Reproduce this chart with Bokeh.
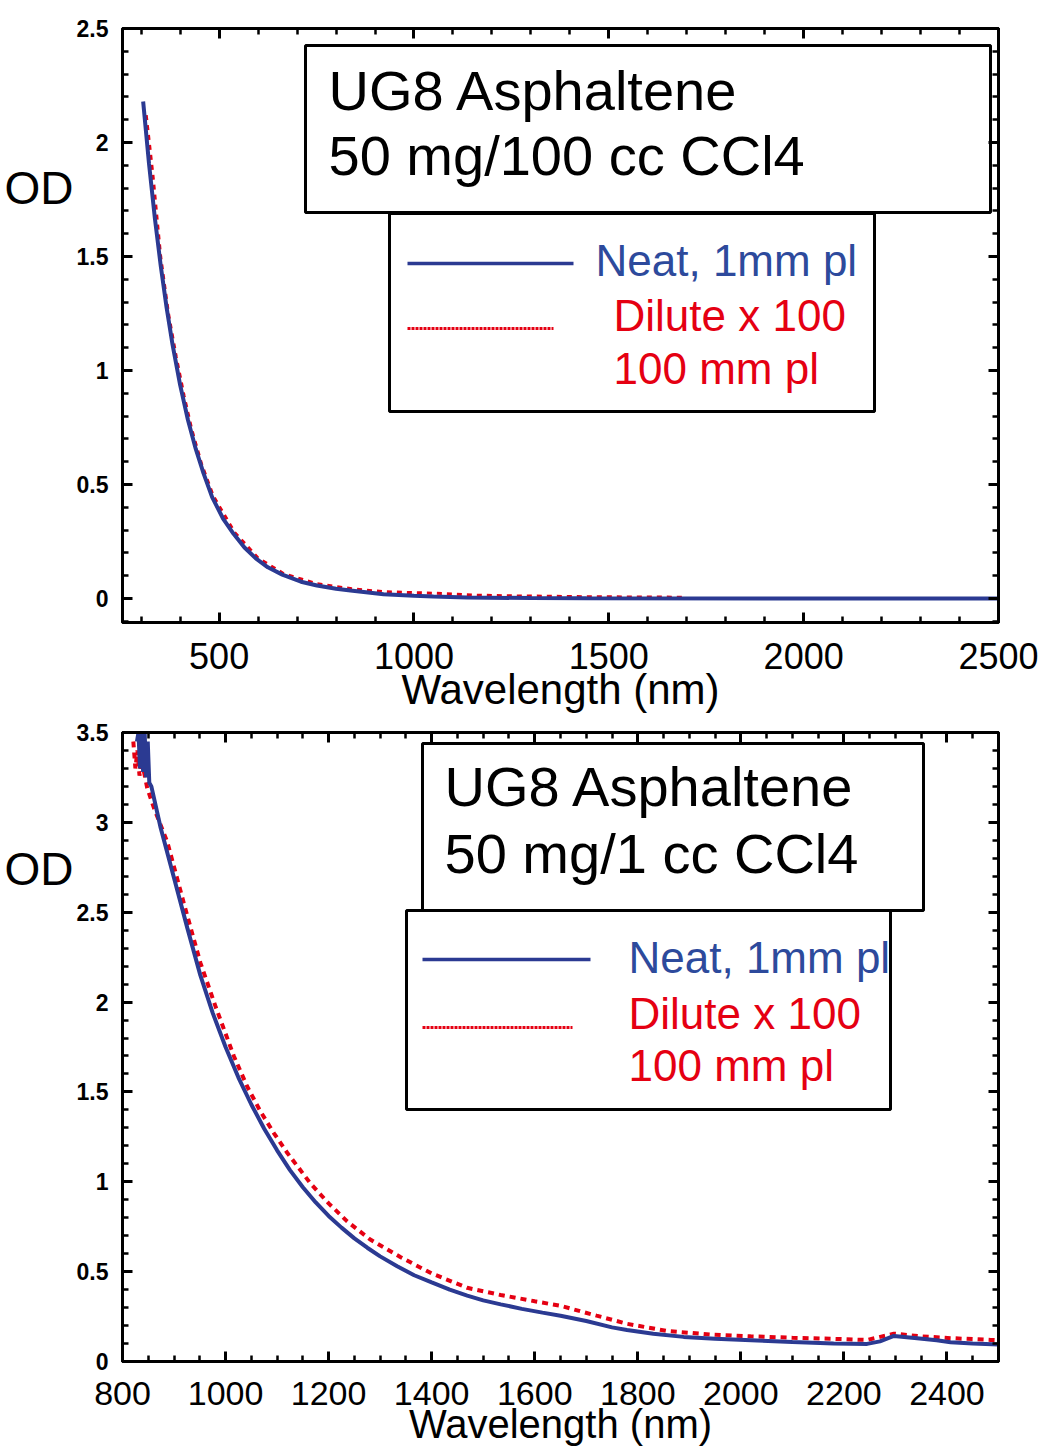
from bokeh.plotting import figure
from bokeh.layouts import column
from bokeh.models import (FixedTicker, LinearAxis, NumeralTickFormatter,
                          CustomJSTickFormatter, BoxAnnotation, Label)
from bokeh.embed import file_html
from bokeh.resources import INLINE

# ---------------- data: top panel (50 mg / 100 cc CCl4) ----------------
top_neat_wl = [305, 320, 335, 350, 365, 380, 400, 420, 440, 460, 482, 510, 537,
               565, 594, 625, 662, 710, 751, 800, 837, 922, 1000, 1050, 1136,
               1300, 1443, 2500]
top_neat_od = [2.18, 1.908, 1.669, 1.461, 1.278, 1.118, 0.936, 0.783, 0.656,
               0.549, 0.445, 0.351, 0.284, 0.224, 0.176, 0.137, 0.105, 0.074,
               0.057, 0.043, 0.035, 0.019, 0.012, 0.009, 0.005, 0.002, 0.001,
               0.0]
top_dil_wl = [313, 330, 350, 370, 390, 410, 430, 455, 485, 540, 600, 665, 750,
              840, 922, 1000, 1080, 1160, 1250, 1450, 1690]
top_dil_od = [2.12, 1.86, 1.50, 1.25, 1.06, 0.89, 0.74, 0.59, 0.45, 0.29,
              0.178, 0.11, 0.065, 0.043, 0.030, 0.026, 0.022, 0.015, 0.012,
              0.008, 0.006]

# ---------------- data: bottom panel (50 mg / 1 cc CCl4) ----------------
bot_neat_wl = [828, 831, 834, 837, 840, 843, 846, 849, 852, 856, 874, 900, 926,
               951, 975, 1000, 1025, 1050, 1075, 1100, 1125, 1150, 1175, 1200,
               1225, 1250, 1275, 1300, 1333, 1366, 1400, 1435, 1469, 1500, 1534,
               1575, 1615, 1650, 1700, 1750, 1779, 1830, 1889, 1950, 2032, 2100,
               2180, 2245, 2270, 2297, 2342, 2380, 2407, 2450, 2500]
bot_neat_od = [3.45, 3.50, 3.30, 3.50, 3.28, 3.50, 3.25, 3.45, 3.22, 3.20,
               2.97, 2.69, 2.41, 2.15, 1.94, 1.75, 1.58, 1.43, 1.295, 1.175,
               1.065, 0.97, 0.885, 0.81, 0.745, 0.685, 0.633, 0.585, 0.530,
               0.48, 0.44, 0.40, 0.367, 0.34, 0.318, 0.293, 0.272, 0.255, 0.225,
               0.19, 0.175, 0.155, 0.137, 0.127, 0.117, 0.108, 0.10, 0.098,
               0.112, 0.142, 0.13, 0.118, 0.107, 0.10, 0.095]
bot_dil_wl = [821, 825, 829, 833, 837, 848, 861, 887, 919, 951, 980, 1016, 1042,
              1068, 1094, 1120, 1165, 1200, 1236, 1280, 1340, 1400, 1469, 1534,
              1600, 1650, 1720, 1779, 1856, 1940, 2019, 2100, 2180, 2245, 2297,
              2350, 2407, 2485, 2500]
bot_dil_od = [3.45, 3.30, 3.40, 3.26, 3.35, 3.19, 3.08, 2.89, 2.55, 2.22, 1.98,
              1.70, 1.53, 1.39, 1.27, 1.16, 0.99, 0.88, 0.78, 0.68, 0.58, 0.49,
              0.41, 0.37, 0.335, 0.31, 0.255, 0.21, 0.17, 0.15, 0.14, 0.132,
              0.126, 0.12, 0.155, 0.14, 0.13, 0.12, 0.118]

# ---------------- text ----------------
top_title = ["UG8 Asphaltene", "50 mg/100 cc CCl4"]
bot_title = ["UG8 Asphaltene", "50 mg/1 cc CCl4"]
legend_neat = "Neat, 1mm pl"
legend_dil = ["Dilute x 100", "100 mm pl"]
x_title = "Wavelength (nm)"
y_title = "OD"

top_xticks = [500, 1000, 1500, 2000, 2500]
top_yticks = [0, 0.5, 1, 1.5, 2, 2.5]
bot_xticks = [800, 1000, 1200, 1400, 1600, 1800, 2000, 2200, 2400]
bot_yticks = [0, 0.5, 1, 1.5, 2, 2.5, 3, 3.5]

BLUE = "#2B3A92"
BLUE_TXT = "#2D4A9C"
RED = "#E50012"
FONT = "Liberation Sans"

FRAME_L, FRAME_R = 122, 998   # page pixels
FIG_W = 1054


def make_fig(xr, yr, height, top_b, bot_b):
    p = figure(width=FIG_W, height=height, x_range=xr, y_range=yr,
               output_backend="svg", toolbar_location=None,
               min_border_left=FRAME_L, min_border_right=FIG_W - FRAME_R,
               min_border_top=top_b, min_border_bottom=bot_b)
    p.grid.visible = False
    p.outline_line_color = "black"
    p.outline_line_width = 3
    p.background_fill_color = "white"
    p.border_fill_color = "white"
    return p


def style_axis(ax):
    ax.axis_line_width = 3
    ax.axis_line_color = "black"
    ax.major_tick_in = 10
    ax.major_tick_out = 0
    ax.minor_tick_in = 6
    ax.minor_tick_out = 0
    ax.major_tick_line_width = 3
    ax.minor_tick_line_width = 2.5
    ax.major_tick_line_color = "black"
    ax.minor_tick_line_color = "black"


def setup_axes(p, xt, yt, xsize, xstand, lab_size, lab_stand, od_y):
    xa = p.xaxis[0]
    ya = p.yaxis[0]
    xa.ticker = xt
    ya.ticker = yt
    for a in (xa, ya):
        style_axis(a)
    xa.major_label_text_font = FONT
    xa.major_label_text_font_size = xsize
    xa.major_label_standoff = xstand
    xa.major_label_text_color = "black"
    xa.axis_label = x_title
    xa.axis_label_text_font = FONT
    xa.axis_label_text_font_style = "normal"
    xa.axis_label_text_font_size = lab_size
    xa.axis_label_text_color = "black"
    xa.axis_label_standoff = lab_stand
    ya.major_label_text_font = FONT
    ya.major_label_text_font_style = "bold"
    ya.major_label_text_font_size = "23px"
    ya.major_label_standoff = 14
    ya.major_label_text_color = "black"
    ya.formatter = NumeralTickFormatter(format="0.[0]")
    blank = CustomJSTickFormatter(code="return ''")
    ax_top = LinearAxis(ticker=xt, formatter=blank, major_label_standoff=0)
    ax_right = LinearAxis(ticker=yt, formatter=blank, major_label_standoff=0)
    style_axis(ax_top)
    style_axis(ax_right)
    p.add_layout(ax_top, "above")
    p.add_layout(ax_right, "right")
    # outer left axis carrying the "OD" title at its place along the axis
    od_axis = LinearAxis(ticker=FixedTicker(ticks=[od_y]),
                         formatter=CustomJSTickFormatter(code="return '%s'" % y_title),
                         axis_line_color=None, major_tick_line_color=None,
                         minor_tick_line_color=None, major_tick_out=0,
                         major_tick_in=0, major_label_standoff=0,
                         major_label_text_font=FONT,
                         major_label_text_font_size="46px",
                         major_label_text_color="black")
    p.add_layout(od_axis, "left")


def converters(x0, x1, y0, y1, ftop, fbot):
    sx = (FRAME_R - FRAME_L) / (x1 - x0)
    sy = (fbot - ftop) / (y1 - y0)
    fx = lambda px: x0 + (px - FRAME_L) / sx
    fy = lambda py: y1 - (py - ftop) / sy
    return fx, fy


def add_text(p, fx, fy, px, base, text, size, color):
    # empirical shift: Bokeh's alphabetic baseline sits ~0.39 em lower
    p.add_layout(Label(x=fx(px), y=fy(base - 0.39 * size), text=text,
                       text_font=FONT, text_font_size="%dpx" % size,
                       text_color=color, text_align="left",
                       text_baseline="alphabetic"))


def decorate(p, fx, fy, title, tbox, title_x, title_base, lbox,
             l_blue, l_red, txt_neat, txt_dil):
    for b in (tbox, lbox):
        p.add_layout(BoxAnnotation(left=fx(b[0]), right=fx(b[1]),
                                   top=fy(b[2]), bottom=fy(b[3]),
                                   fill_color="white", fill_alpha=1,
                                   line_color="black", line_alpha=1,
                                   line_width=3, level="underlay"))
    for line, base in zip(title, title_base):
        add_text(p, fx, fy, title_x, base, line, 56, "black")
    p.segment(x0=[fx(l_blue[0])], x1=[fx(l_blue[1])],
              y0=[fy(l_blue[2])], y1=[fy(l_blue[2])],
              line_color=BLUE, line_width=3.5)
    p.segment(x0=[fx(l_red[0])], x1=[fx(l_red[1])],
              y0=[fy(l_red[2])], y1=[fy(l_red[2])],
              line_color=RED, line_width=3, line_dash="3 1")
    add_text(p, fx, fy, txt_neat[0], txt_neat[1], legend_neat, 44, BLUE_TXT)
    for line, base in zip(legend_dil, txt_dil[1:]):
        add_text(p, fx, fy, txt_dil[0], base, line, 44, RED)


# ================= top panel =================
T_X0, T_X1, T_Y0, T_Y1 = 252, 2500, -0.105, 2.5
T_TOP, T_BOT = 28, 622
fx1, fy1 = converters(T_X0, T_X1, T_Y0, T_Y1, T_TOP, T_BOT)
p1 = make_fig((T_X0, T_X1), (T_Y0, T_Y1), 718, T_TOP, 718 - T_BOT)
xt1 = FixedTicker(ticks=top_xticks, minor_ticks=list(range(300, 2501, 100)))
yt1 = FixedTicker(ticks=top_yticks,
                  minor_ticks=[round(0.1 * i, 1) for i in range(-1, 26)])
setup_axes(p1, xt1, yt1, "36px", 20, "42px", -6, fy1(187))
p1.line(top_dil_wl, top_dil_od, line_color=RED, line_width=3, line_dash="5 5")
p1.line(top_neat_wl, top_neat_od, line_color=BLUE, line_width=4)
decorate(p1, fx1, fy1, top_title, (305, 990, 45, 212), 328, (112, 177),
         (389, 874, 213, 411), (407, 573, 263), (407, 553, 328),
         (595, 277), (613, 332, 385))

# ================= bottom panel =================
B_X0, B_X1, B_Y0, B_Y1 = 800, 2500, 0, 3.5
B_TOP, B_BOT = 732, 1361
fx2, fy2 = converters(B_X0, B_X1, B_Y0, B_Y1, B_TOP, B_BOT)
p2 = make_fig((B_X0, B_X1), (B_Y0, B_Y1), 734, B_TOP - 718, 1452 - B_BOT)
xt2 = FixedTicker(ticks=bot_xticks, minor_ticks=list(range(800, 2501, 50)))
yt2 = FixedTicker(ticks=bot_yticks,
                  minor_ticks=[round(0.1 * i, 1) for i in range(0, 36)])
setup_axes(p2, xt2, yt2, "34px", 20, "40px", -6, fy2(868))
p2.line(bot_dil_wl, bot_dil_od, line_color=RED, line_width=4, line_dash="6 5")
p2.line(bot_neat_wl, bot_neat_od, line_color=BLUE, line_width=4)
decorate(p2, fx2, fy2, bot_title, (422, 923, 743, 910), 444, (808, 875),
         (406, 890, 910, 1109), (422, 590, 959), (422, 572, 1027),
         (628, 974), (628, 1030, 1082))

layout = column(p1, p2)
open("out.html", "w").write(file_html(layout, INLINE))
